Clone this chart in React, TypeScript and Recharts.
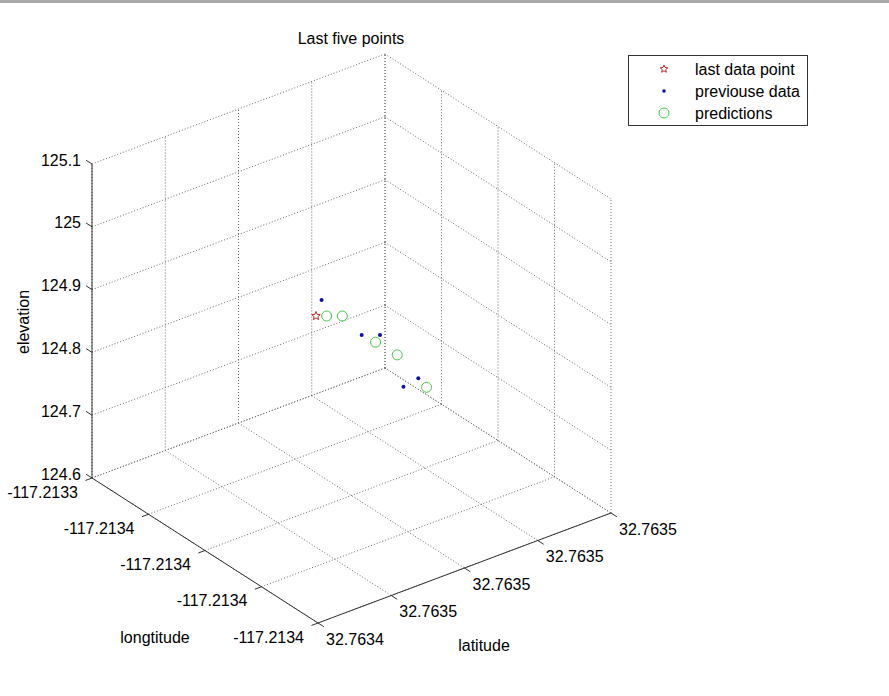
import React from 'react';
import { Legend, ReferenceLine, Scatter, ScatterChart, XAxis, YAxis } from 'recharts';

// axis ticks, as MATLAB printed them (4 decimals)
const latTicks = [32.76344, 32.76346, 32.76348, 32.7635, 32.76352];
const latTickLabels = ['32.7634', '32.7635', '32.7635', '32.7635', '32.7635'];
const lonTicks = [-117.21334, -117.21336, -117.21338, -117.2134, -117.21342];
const lonTickLabels = ['-117.2133', '-117.2134', '-117.2134', '-117.2134', '-117.2134'];
const elevTicks = [124.6, 124.7, 124.8, 124.9, 125, 125.1];
const elevTickLabels = ['124.6', '124.7', '124.8', '124.9', '125', '125.1'];

// previous data
const prevLat = [32.7634736, 32.76348, 32.763484, 32.7634864, 32.7634896];
const prevLon = [-117.2133777, -117.2133836, -117.2133849, -117.2133901, -117.2133912];
const prevElev = [124.9188, 124.8659, 124.861, 124.7882, 124.798];

// last data point
const lastLat = [32.763472];
const lastLon = [-117.2133778];
const lastElev = [124.897];

// predictions
const predLat = [32.7634736, 32.7634768, 32.7634824, 32.7634864, 32.7634904];
const predLon = [-117.2133795, -117.2133809, -117.2133854, -117.2133879, -117.2133931];
const predElev = [124.8984, 124.8954, 124.8545, 124.8327, 124.7874];

const W = 889;
const H = 696;
const FONT = '"Liberation Sans", Arial, Helvetica, sans-serif';
const GRID = '#6a6a6a';
const AXIS = '#333';

// view of the box: where the (latMin, lonMax, elevMin) corner sits and how each axis runs on screen
const ORIGIN = { x: 92, y: 478 };
const LAT_VEC = { x: 293, y: -110 };
const LON_VEC = { x: 226, y: 145 }; // lonMax -> lonMin
const ELEV_VEC = { x: 0, y: -314 };

const latMin = Math.min(...latTicks);
const latMax = Math.max(...latTicks);
const lonMin = Math.min(...lonTicks);
const lonMax = Math.max(...lonTicks);
const eMin = Math.min(...elevTicks);
const eMax = Math.max(...elevTicks);

type P3 = [number, number, number];

function project([lat, lon, elev]: P3) {
  const a = (lat - latMin) / (latMax - latMin);
  const b = (lonMax - lon) / (lonMax - lonMin);
  const c = (elev - eMin) / (eMax - eMin);
  return {
    x: ORIGIN.x + a * LAT_VEC.x + b * LON_VEC.x + c * ELEV_VEC.x,
    y: ORIGIN.y + a * LAT_VEC.y + b * LON_VEC.y + c * ELEV_VEC.y,
  };
}

const toPoints = (la: number[], lo: number[], el: number[]) =>
  la.map((v, i) => project([v, lo[i], el[i]]));

const prevData = toPoints(prevLat, prevLon, prevElev);
const lastData = toPoints(lastLat, lastLon, lastElev);
const predData = toPoints(predLat, predLon, predElev);

// dotted grid on the floor and the two back walls
const gridSegs: Array<[P3, P3]> = [];
latTicks.forEach((la) => {
  gridSegs.push([[la, lonMax, eMin], [la, lonMin, eMin]]);
  gridSegs.push([[la, lonMax, eMin], [la, lonMax, eMax]]);
});
lonTicks.forEach((lo) => {
  gridSegs.push([[latMin, lo, eMin], [latMax, lo, eMin]]);
  gridSegs.push([[latMax, lo, eMin], [latMax, lo, eMax]]);
});
elevTicks.forEach((e) => {
  gridSegs.push([[latMin, lonMax, e], [latMax, lonMax, e]]);
  gridSegs.push([[latMax, lonMax, e], [latMax, lonMin, e]]);
});

const axisSegs: Array<[P3, P3]> = [
  [[latMin, lonMax, eMin], [latMin, lonMax, eMax]],
  [[latMin, lonMax, eMin], [latMin, lonMin, eMin]],
  [[latMin, lonMin, eMin], [latMax, lonMin, eMin]],
];

const unit = (v: { x: number; y: number }) => {
  const l = Math.hypot(v.x, v.y);
  return { x: v.x / l, y: v.y / l };
};
const TICK = 7;
const uLat = unit(LAT_VEC);
const uLon = unit(LON_VEC);

const elevTickPts = elevTicks.map((e, i) => ({ ...project([latMin, lonMax, e]), label: elevTickLabels[i] }));
const lonTickPts = lonTicks.map((lo, i) => ({ ...project([latMin, lo, eMin]), label: lonTickLabels[i] }));
const latTickPts = latTicks.map((la, i) => ({ ...project([la, lonMin, eMin]), label: latTickLabels[i] }));

const tickSegs = [
  ...elevTickPts.map((p) => [p, { x: p.x - uLon.x * TICK, y: p.y - uLon.y * TICK }]),
  ...lonTickPts.map((p) => [p, { x: p.x - uLat.x * TICK, y: p.y - uLat.y * TICK }]),
  ...latTickPts.map((p) => [p, { x: p.x + uLon.x * TICK, y: p.y + uLon.y * TICK }]),
];

const starPath = (cx: number, cy: number, R: number, r: number) => {
  let d = '';
  for (let i = 0; i < 10; i++) {
    const ang = -Math.PI / 2 + (i * Math.PI) / 5;
    const rad = i % 2 === 0 ? R : r;
    d += `${i === 0 ? 'M' : 'L'}${cx + rad * Math.cos(ang)},${cy + rad * Math.sin(ang)}`;
  }
  return d + 'Z';
};

const StarShape = (props: any) => (
  <path d={starPath(props.cx, props.cy, 4.5, 2)} fill="none" stroke="#c02828" strokeWidth={1} />
);
const DotShape = (props: any) => <circle cx={props.cx} cy={props.cy} r={2} fill="#1010a8" />;
const CircleShape = (props: any) => (
  <circle cx={props.cx} cy={props.cy} r={5} fill="none" stroke="#45c845" strokeWidth={1} />
);

const makeLabel = (dx: number, dy: number, anchor: 'start' | 'end') => (props: any) => (
  <text
    x={props.cx + dx}
    y={props.cy + dy}
    textAnchor={anchor}
    dominantBaseline="central"
    fontFamily={FONT}
    fontSize={16}
    fill="#000"
  >
    {props.payload.label}
  </text>
);

const legendItems = [
  { name: 'last data point', marker: (x: number, y: number) => <path d={starPath(x, y, 4, 1.8)} fill="none" stroke="#c02828" /> },
  { name: 'previouse data', marker: (x: number, y: number) => <circle cx={x} cy={y} r={1.8} fill="#1010a8" /> },
  { name: 'predictions', marker: (x: number, y: number) => <circle cx={x} cy={y} r={5} fill="none" stroke="#45c845" /> },
];

const LegendBox = () => (
  <div
    style={{
      width: 178,
      height: 69,
      border: '1px solid #333',
      background: '#fff',
      fontFamily: FONT,
      fontSize: 16,
      position: 'relative',
    }}
  >
    <svg width={178} height={69} style={{ position: 'absolute', left: 0, top: 0 }}>
      {legendItems.map((it, i) => (
        <g key={it.name}>
          {it.marker(35, 13 + i * 22)}
          <text x={66} y={13 + i * 22} dominantBaseline="central" fontFamily={FONT} fontSize={16} fill="#000">
            {it.name}
          </text>
        </g>
      ))}
    </svg>
  </div>
);

export default function App() {
  return (
    <div style={{ position: 'absolute', left: 0, top: 0, width: W, height: H, background: '#fff' }}>
      <div style={{ position: 'absolute', left: 0, top: 0, width: W, height: 3, background: '#a9a9a9' }} />
      <ScatterChart width={W} height={H} margin={{ top: 0, right: 0, bottom: 0, left: 0 }}>
        <XAxis type="number" dataKey="x" domain={[0, W]} allowDataOverflow hide />
        <YAxis type="number" dataKey="y" domain={[0, H]} allowDataOverflow reversed hide />
        {gridSegs.map(([p, q], i) => (
          <ReferenceLine
            key={`g${i}`}
            segment={[project(p), project(q)]}
            stroke={GRID}
            strokeDasharray="1 2"
            strokeWidth={1}
          />
        ))}
        {axisSegs.map(([p, q], i) => (
          <ReferenceLine key={`a${i}`} segment={[project(p), project(q)]} stroke={AXIS} strokeWidth={1} />
        ))}
        {tickSegs.map(([p, q], i) => (
          <ReferenceLine key={`t${i}`} segment={[p, q]} stroke={AXIS} strokeWidth={1} />
        ))}
        <Scatter data={elevTickPts} shape={makeLabel(-11, -4, 'end')} legendType="none" isAnimationActive={false} />
        <Scatter data={lonTickPts} shape={makeLabel(-14, 14, 'end')} legendType="none" isAnimationActive={false} />
        <Scatter data={latTickPts} shape={makeLabel(8, 16, 'start')} legendType="none" isAnimationActive={false} />
        <Scatter name="previouse data" data={prevData} shape={DotShape} isAnimationActive={false} />
        <Scatter name="last data point" data={lastData} shape={StarShape} isAnimationActive={false} />
        <Scatter name="predictions" data={predData} shape={CircleShape} isAnimationActive={false} />
        <Legend
          layout="vertical"
          align="center"
          verticalAlign="middle"
          content={() => <LegendBox />}
          wrapperStyle={{ left: 628, top: 55, width: 180, height: 71 }}
        />
        <text x={351} y={38} textAnchor="middle" dominantBaseline="central" fontFamily={FONT} fontSize={16} fill="#000">
          Last five points
        </text>
        <text
          x={23}
          y={322}
          transform="rotate(-90 23 322)"
          textAnchor="middle"
          dominantBaseline="central"
          fontFamily={FONT}
          fontSize={16}
          fill="#000"
        >
          elevation
        </text>
        <text x={155} y={637} textAnchor="middle" dominantBaseline="central" fontFamily={FONT} fontSize={16} fill="#000">
          longtitude
        </text>
        <text x={484} y={645} textAnchor="middle" dominantBaseline="central" fontFamily={FONT} fontSize={16} fill="#000">
          latitude
        </text>
      </ScatterChart>
    </div>
  );
}
